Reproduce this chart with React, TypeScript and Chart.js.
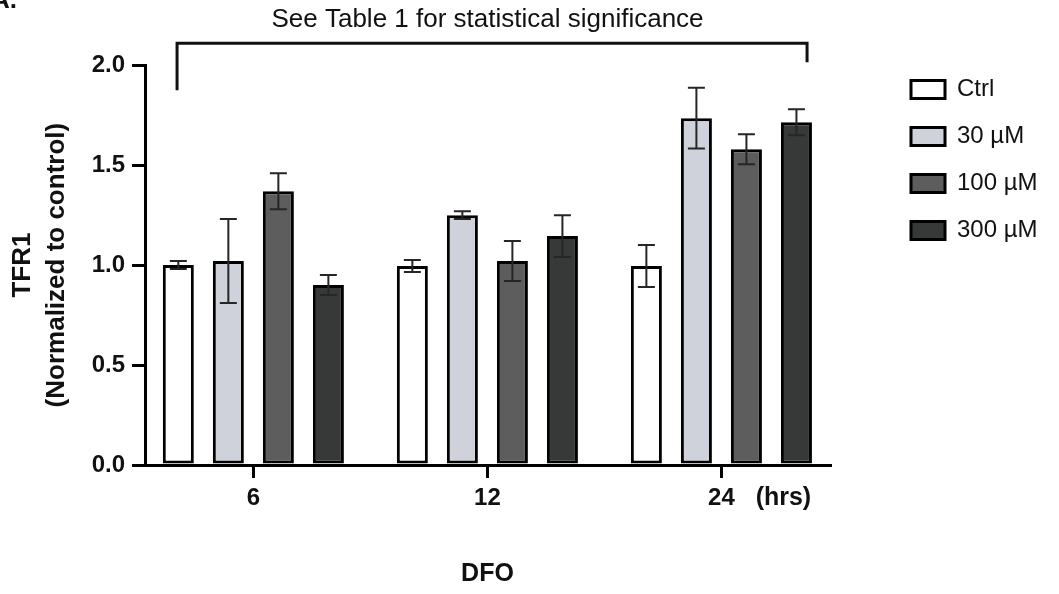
import React, { useEffect, useRef } from 'react';
import { Chart, registerables } from 'chart.js';

Chart.register(...registerables);

// ---------- data ----------
const categories = ['6', '12', '24'];
const categoryPositions = [0, 1, 2];
const seriesNames = ['Ctrl', '30 µM', '100 µM', '300 µM'];
const ctrlMeans = [1.0, 0.995, 0.995];
const ctrlErrors = [0.02, 0.03, 0.105];
const dfo30Means = [1.02, 1.25, 1.735];
const dfo30Errors = [0.21, 0.02, 0.152];
const dfo100Means = [1.37, 1.02, 1.58];
const dfo100Errors = [0.09, 0.1, 0.075];
const dfo300Means = [0.9, 1.145, 1.715];
const dfo300Errors = [0.05, 0.105, 0.065];
const yTickValues = [0, 0.5, 1.0, 1.5, 2.0];

const titleText = 'See Table 1 for statistical significance';
const yTitleLines = ['TFR1', '(Normalized to control)'];
const xTitleText = 'DFO';
const unitText = '(hrs)';
const panelLabel = 'A.';

// bracket ends in data units (x: category axis value, y: value axis)
const bracketX = [-0.326, 2.366];
const bracketY = 2.11;
const bracketLegEnds = [1.875, 2.015];

// ---------- styles ----------
const FONT = '"Liberation Sans", Arial, Helvetica, sans-serif';
const fillColors = ['#ffffff', '#d0d2db', '#5d5d5d', '#373938'];
const INK = '#111111';

const allMeans = [ctrlMeans, dfo30Means, dfo100Means, dfo300Means];
const allErrors = [ctrlErrors, dfo30Errors, dfo100Errors, dfo300Errors];

const errorBarPlugin = {
  id: 'errorBars',
  afterDatasetsDraw(chart: any) {
    const { ctx } = chart;
    const y = chart.scales.y;
    ctx.save();
    ctx.strokeStyle = '#262626';
    ctx.lineWidth = 2;
    chart.data.datasets.forEach((ds: any, i: number) => {
      const meta = chart.getDatasetMeta(i);
      meta.data.forEach((bar: any, j: number) => {
        const m = allMeans[i][j];
        const e = allErrors[i][j];
        const top = y.getPixelForValue(m + e);
        const bot = y.getPixelForValue(m - e);
        const x = bar.x;
        const cap = 8.5;
        ctx.beginPath();
        ctx.moveTo(x, top);
        ctx.lineTo(x, bot);
        ctx.moveTo(x - cap, top);
        ctx.lineTo(x + cap, top);
        ctx.moveTo(x - cap, bot);
        ctx.lineTo(x + cap, bot);
        ctx.stroke();
      });
    });
    ctx.restore();
  },
};

const annotationPlugin = {
  id: 'annotations',
  afterDraw(chart: any) {
    const { ctx } = chart;
    const xs = chart.scales.x;
    const ys = chart.scales.y;
    ctx.save();
    // bracket
    const x0 = xs.getPixelForValue(bracketX[0]);
    const x1 = xs.getPixelForValue(bracketX[1]);
    const yb = ys.getPixelForValue(bracketY);
    ctx.strokeStyle = INK;
    ctx.lineWidth = 3;
    ctx.lineCap = 'butt';
    ctx.lineJoin = 'miter';
    ctx.beginPath();
    ctx.moveTo(x0, ys.getPixelForValue(bracketLegEnds[0]));
    ctx.lineTo(x0, yb);
    ctx.lineTo(x1, yb);
    ctx.lineTo(x1, ys.getPixelForValue(bracketLegEnds[1]));
    ctx.stroke();
    // unit label next to last category
    ctx.fillStyle = INK;
    ctx.font = `bold 25px ${FONT}`;
    ctx.textAlign = 'center';
    ctx.textBaseline = 'middle';
    ctx.fillText(unitText, xs.getPixelForValue(2) + 62, xs.top + 13 + 6 + 14.4);
    // panel label (cut at top)
    ctx.font = `bold 26px ${FONT}`;
    ctx.textAlign = 'left';
    ctx.textBaseline = 'alphabetic';
    ctx.fillText(panelLabel, -9, 8);
    ctx.restore();
  },
};

export default function App() {
  const canvasRef = useRef<HTMLCanvasElement | null>(null);

  useEffect(() => {
    if (!canvasRef.current) return;
    const datasets = seriesNames.map((name, i) => ({
      label: name,
      data: categoryPositions.map((x, j) => ({ x, y: allMeans[i][j] })),
      backgroundColor: fillColors[i],
      borderColor: '#000000',
      borderWidth: 3,
      borderSkipped: false as const,
      categoryPercentage: 0.855,
      barPercentage: 0.62,
    }));

    const chart = new Chart(canvasRef.current, {
      type: 'bar',
      data: { datasets },
      plugins: [errorBarPlugin, annotationPlugin],
      options: {
        animation: false,
        responsive: false,
        devicePixelRatio: 1,
        layout: { padding: { left: 0, right: 21, top: 0, bottom: 0 } },
        plugins: {
          title: {
            display: true,
            text: titleText,
            fullSize: false,
            color: INK,
            font: { family: FONT, size: 26, weight: 'normal', lineHeight: 1.2 },
            padding: { top: 4.1, bottom: 29.9 },
          },
          legend: {
            position: 'right',
            align: 'start',
            maxWidth: 150,
            title: {
              display: true,
              text: '',
              font: { size: 10, lineHeight: 1 },
              padding: { top: 44.5, bottom: 0 },
            },
            labels: {
              boxWidth: 34,
              boxHeight: 18,
              padding: 23,
              color: INK,
              font: { family: FONT, size: 24 },
            },
          },
          tooltip: { enabled: false },
        },
        scales: {
          x: {
            type: 'linear',
            min: -0.463,
            max: 2.464,
            offset: false,
            afterBuildTicks: (s: any) => {
              s.ticks = categoryPositions.map((v) => ({ value: v }));
            },
            afterFit: (s: any) => {
              s.height = 129;
            },
            ticks: {
              autoSkip: false,
              maxRotation: 0,
              padding: 6,
              color: INK,
              font: { family: FONT, size: 24, weight: 'bold', lineHeight: 1.2 },
              callback: (_v: any, i: number) => categories[i],
            },
            grid: {
              display: true,
              offset: false,
              drawOnChartArea: false,
              drawTicks: true,
              tickLength: 13,
              lineWidth: 3,
              color: '#000000',
            },
            border: { display: true, width: 3, color: '#000000' },
            title: {
              display: true,
              text: xTitleText,
              color: INK,
              font: { family: FONT, size: 25, weight: 'bold', lineHeight: 1.2 },
              padding: { top: 0, bottom: 5 },
            },
          },
          y: {
            type: 'linear',
            min: 0,
            max: 2,
            afterBuildTicks: (s: any) => {
              s.ticks = yTickValues.map((v) => ({ value: v }));
            },
            afterFit: (s: any) => {
              s.width = 145;
            },
            ticks: {
              padding: 7,
              color: INK,
              font: { family: FONT, size: 24, weight: 'bold' },
              callback: (v: any) => Number(v).toFixed(1),
            },
            grid: {
              display: true,
              drawOnChartArea: false,
              drawTicks: true,
              tickLength: 13,
              lineWidth: 3,
              color: '#000000',
            },
            border: { display: true, width: 3, color: '#000000' },
            title: {
              display: true,
              text: yTitleLines,
              color: INK,
              font: { family: FONT, size: 26, weight: 'bold', lineHeight: 1.27 },
              padding: { top: 6.8, bottom: 0 },
            },
          },
          spacer: {
            type: 'linear',
            position: 'right',
            display: true,
            grid: { display: false },
            border: { display: false },
            ticks: { display: false },
            afterFit: (s: any) => {
              s.width = 58;
            },
          },
        },
      } as any,
    });
    return () => chart.destroy();
  }, []);

  return (
    <div style={{ position: 'fixed', left: 0, top: 0, width: 1059, height: 594, background: '#ffffff' }}>
      <canvas ref={canvasRef} width={1059} height={594} style={{ display: 'block' }} />
    </div>
  );
}
